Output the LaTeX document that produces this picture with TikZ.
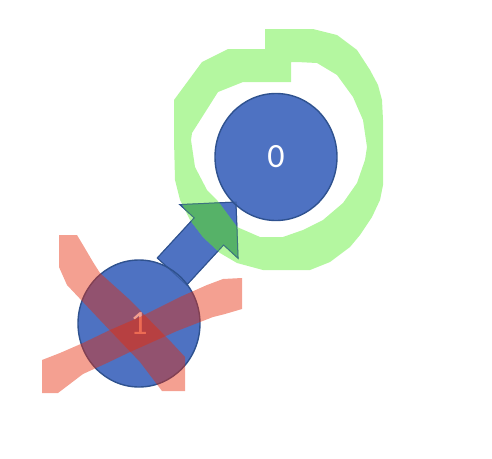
\documentclass[tikz,border=0pt]{standalone}
\usepackage{fontspec}
\setmainfont{Carlito}
\usetikzlibrary{shapes.geometric,calc}
\definecolor{nodeblue}{RGB}{78,114,194}
\definecolor{nodeedge}{RGB}{47,82,143}
\definecolor{hlgreen}{RGB}{105,239,65}
\definecolor{hldarkgreen}{RGB}{86,178,104}
\definecolor{hlred}{RGB}{230,44,10}
\tikzset{
  statenode/.style={ellipse, fill=nodeblue, draw=nodeedge, line width=1.4pt,
    minimum width=122pt, minimum height=127pt, inner sep=0pt, text=white,
    font=\fontsize{34}{40}\selectfont},
  blockarrow/.style={fill=nodeblue, draw=nodeedge, line width=1pt, line join=miter},
  greenmark/.style={fill=hlgreen, fill opacity=0.5, even odd rule},
  redmark/.style={fill=hlred, fill opacity=0.45},
}
\newcommand{\arrowoutline}{($(as)!20pt!90:(at)$) -- ($(hb)!20pt!90:(at)$) -- ($(hb)!39.6pt!90:(at)$)
  -- (at) -- ($(hb)!39.6pt!-90:(at)$) -- ($(hb)!20pt!-90:(at)$) -- ($(as)!20pt!-90:(at)$) -- cycle}
\newcommand{\ringoutline}{(265,29) -- (290,29) -- (313,29) -- (337,35) -- (357,50) -- (370,70) -- (378,85)
  -- (382,100) -- (383,120) -- (383,185) -- (380,200) -- (372,217) -- (360,235) -- (350,247)
  -- (330,262) -- (310,270) -- (263,270) -- (237,263) -- (220,253) -- (203,237)
  -- (190,220) -- (180,200) -- (175,180) -- (174,140) -- (174,100) -- (202,62)
  -- (228,49) -- (265,49) -- cycle
  (291,62) -- (291,82) -- (243,82) -- (218,92) -- (192,133) -- (191,140) -- (195,167)
  -- (207,190) -- (217,200) -- (237,227) -- (260,237) -- (283,237) -- (303,230)
  -- (323,220) -- (343,203) -- (357,183) -- (365,160) -- (367,147) -- (363,120) -- (353,97)
  -- (337,75) -- (317,63) -- (297,62) -- cycle}
\begin{document}
\begin{tikzpicture}[x=1pt,y=-1pt]
\useasboundingbox (0,0) rectangle (492,458);
% block arrow from node 1 to node 0
\coordinate (as) at (172,271.5);
\coordinate (at) at (236,202);
\coordinate (hb) at ($(as)!54.5pt!(at)$);
\draw[blockarrow] \arrowoutline;
% states
\node[statenode] (n0) at (276,157) {0};
\node[statenode] (n1) at (139,323.5) {1};
% green loop mark
\fill[greenmark] \ringoutline;
\begin{scope}
  \clip \arrowoutline;
  \fill[hldarkgreen, even odd rule] \ringoutline;
\end{scope}
\draw[draw=nodeedge, line width=1pt, line join=miter, draw opacity=0.6] \arrowoutline;
% red cross mark
\fill[redmark]
  (59,235) -- (59,267) -- (67,285) -- (100,320) -- (140,362) -- (162,391)
  -- (185,391) -- (185,357) -- (172,343) -- (130,300) -- (100,273) -- (93,262)
  -- (83,245) -- (77,235) -- cycle;
\fill[redmark]
  (42,360) -- (60,353) -- (83,343) -- (110,330) -- (140,317) -- (180,297)
  -- (207,285) -- (223,279) -- (242,278) -- (242,309) -- (225,314) -- (213,317)
  -- (177,331) -- (130,352) -- (107,363) -- (83,374) -- (58,393) -- (42,393) -- cycle;
\end{tikzpicture}
\end{document}
